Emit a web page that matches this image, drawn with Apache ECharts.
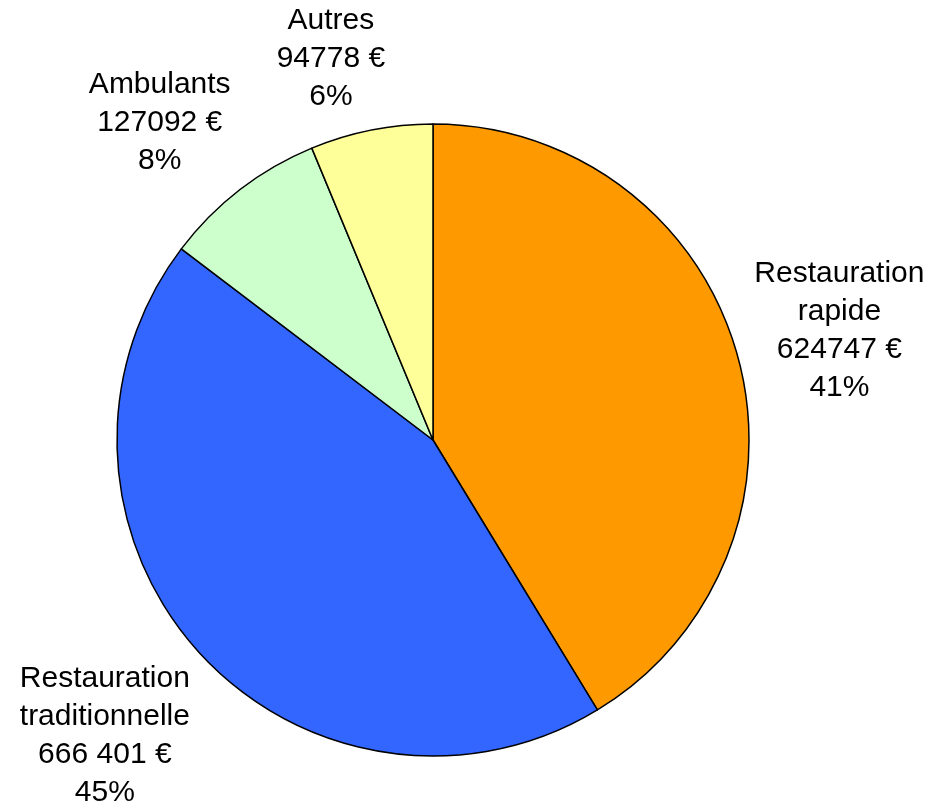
<!DOCTYPE html>
<html>
<head>
<meta charset="utf-8">
<script src="https://cdn.jsdelivr.net/npm/echarts@6/dist/echarts.min.js"></script>
<style>
  html, body { margin: 0; padding: 0; background: #fff; }
  #pie-box { width: 928px; height: 807px; }
</style>
</head>
<body>
<div id="pie-box"></div>
<script>
// categories and values
var categories = ['Restauration\nrapide', 'Restauration\ntraditionnelle', 'Ambulants', 'Autres'];
var values = [624747, 666401, 127092, 94778];
var valueLabels = ['624747 €', '666 401 €', '127092 €', '94778 €'];
var percentLabels = ['41%', '45%', '8%', '6%'];
var colors = ['#FF9900', '#3366FF', '#CCFFCC', '#FFFF99'];

// layout
var cx = 433, cy = 440, radius = 316, labelGap = 10;
// small per-label tweaks: [angle shift in degrees, extra distance in px]
var labelNudge = [[0.6, -7], [0, 2], [-3.1, 3], [-3.7, 0]];

var total = values.reduce(function (a, b) { return a + b; }, 0);
var midAngles = [];
var acc = 0;
values.forEach(function (v) {
  midAngles.push((acc + v / 2) / total * Math.PI * 2);
  acc += v;
});

var chartObj = echarts.init(document.getElementById('pie-box'));
var option = {
  animation: false,
  color: colors,
  series: [
    {
      type: 'pie',
      center: [cx, cy],
      radius: radius,
      startAngle: 90,
      clockwise: true,
      data: categories.map(function (c, i) {
        return { name: c, value: values[i] };
      }),
      itemStyle: {
        borderColor: '#000',
        borderWidth: 1.5
      },
      label: {
        show: true,
        position: 'outside',
        color: '#000',
        fontFamily: 'Liberation Sans, Arial, sans-serif',
        fontSize: 30,
        lineHeight: 38,
        align: 'center',
        overflow: 'none',
        formatter: function (p) {
          return p.name + '\n' + valueLabels[p.dataIndex] + '\n' + percentLabels[p.dataIndex];
        }
      },
      labelLine: { show: false },
      emphasis: { disabled: true },
      labelLayout: function (params) {
        // centre the label block on the slice's mid-angle, just outside the pie
        var n = labelNudge[params.dataIndex];
        var a = midAngles[params.dataIndex] + n[0] * Math.PI / 180;
        var dx = Math.sin(a), dy = -Math.cos(a);
        var w = params.labelRect.width, h = params.labelRect.height;
        var d = radius + labelGap + n[1] + Math.abs(dx) * w / 2 + Math.abs(dy) * h / 2;
        return {
          x: cx + dx * d,
          y: cy + dy * d,
          align: 'center',
          verticalAlign: 'middle',
          hideOverlap: false,
          moveOverlap: null
        };
      }
    }
  ]
};
chartObj.setOption(option);
</script>
</body>
</html>
